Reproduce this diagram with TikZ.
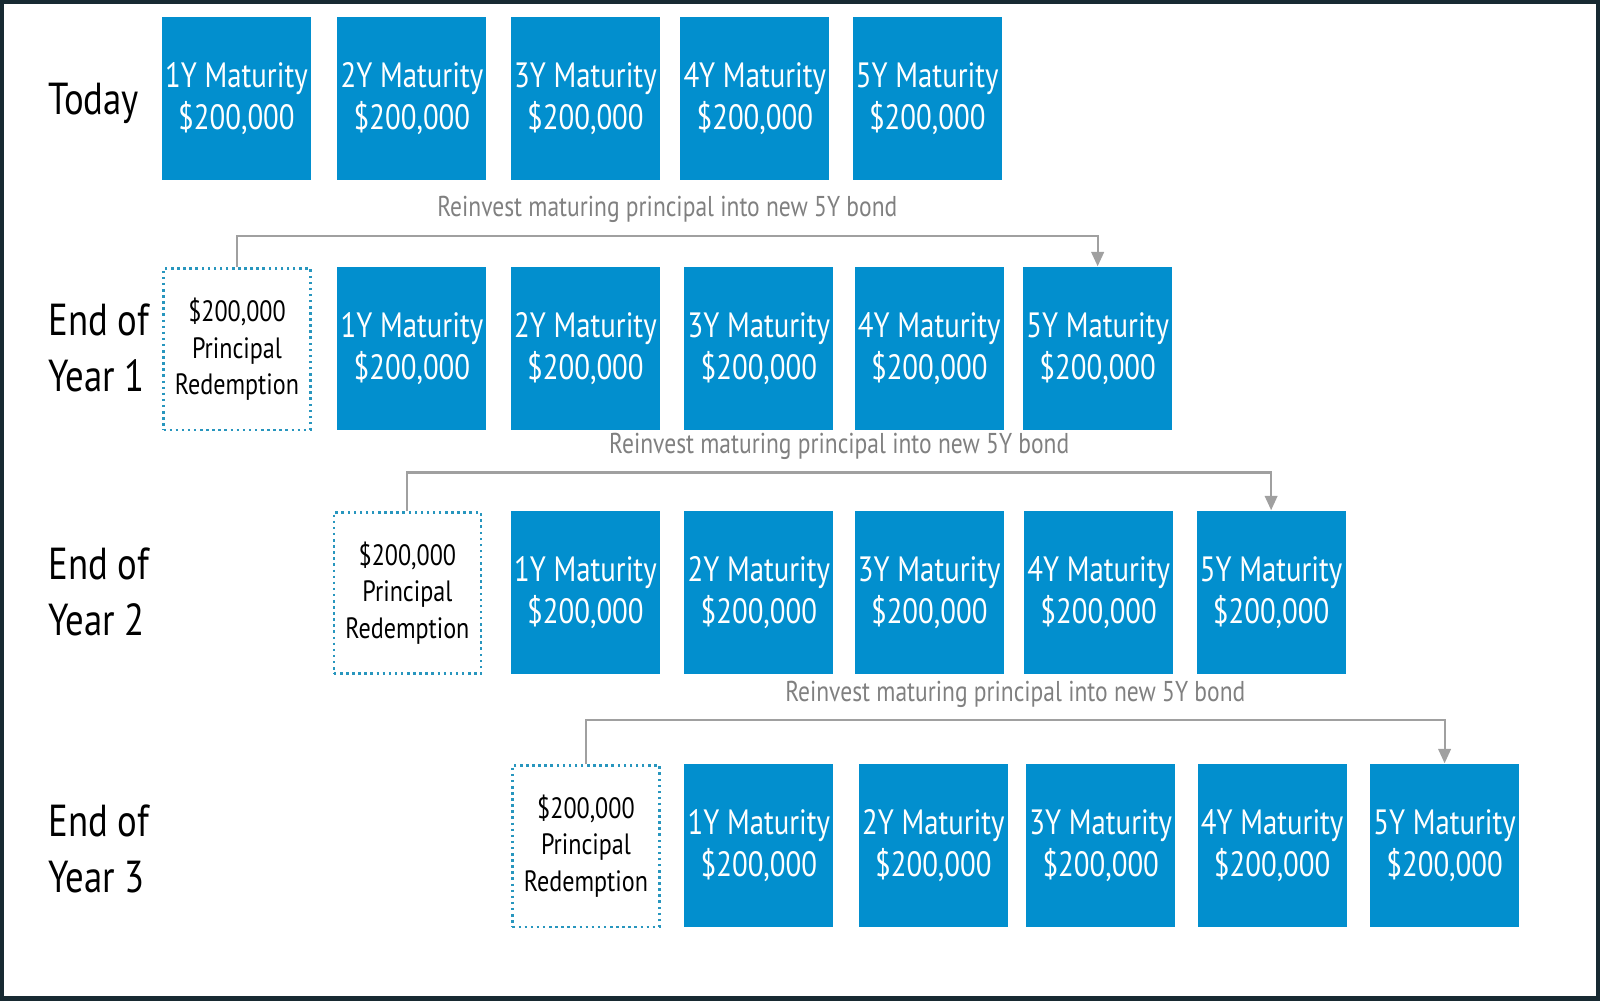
\documentclass[tikz,border=0pt]{standalone}
\usepackage{fontspec}
\setmainfont{PT Sans}[FakeStretch=0.82]
\usetikzlibrary{arrows.meta}
\definecolor{bondblue}{RGB}{2,143,206}
\definecolor{dotteal}{RGB}{40,150,190}
\definecolor{linegray}{RGB}{160,160,160}
\definecolor{framedark}{RGB}{24,42,50}
\begin{document}
\begin{tikzpicture}[x=0.1mm, y=-0.1mm]
        \tikzset{Bond/.style={shape=rectangle, fill=bondblue, text=white, minimum width=14.6mm, minimum height=16mm, align=center, font=\fontsize{9.8}{11.6}\selectfont, anchor=north west, inner sep=0pt}}
        \tikzset{Redeem/.style={shape=rectangle, draw=dotteal, densely dotted, line width=0.7pt, minimum width=14.4mm, minimum height=15.8mm, align=center, font=\fontsize{8.2}{10.2}\selectfont, anchor=north west, inner sep=0pt}}
        \tikzset{Row/.style={anchor=west, align=left, font=\fontsize{12.5}{15.6}\selectfont}}
        \tikzset{Reinvest/.style={draw=linegray, line width=0.6pt, -{Triangle[width=3.5pt,length=4pt]}}}
        \tikzset{Note/.style={text=gray, font=\fontsize{8}{10}\selectfont}}

        \useasboundingbox (0,0) rectangle (1568,980);
        \draw[framedark, line width=2pt] (0,0) rectangle (1568,980);

        % row labels
        \node[Row] (today) at (35,101) {Today};
        \node[Row] (year1) at (35,341) {End of\\Year 1};
        \node[Row] (year2) at (35,580) {End of\\Year 2};
        \node[Row] (year3) at (35,832) {End of\\Year 3};

        % today
        \foreach \x [count=\i] in {158,330,500,666,835}
            \node[Bond] (t\i) at (\x,16) {\i Y Maturity\\\$200,000};

        % end of year 1
        \node[Redeem] (r1) at (159,262) {\$200,000\\Principal\\Redemption};
        \foreach \x [count=\i] in {330,500,670,837,1002}
            \node[Bond] (a\i) at (\x,261) {\i Y Maturity\\\$200,000};

        % end of year 2
        \node[Redeem] (r2) at (326,501) {\$200,000\\Principal\\Redemption};
        \foreach \x [count=\i] in {500,670,837,1003,1172}
            \node[Bond] (b\i) at (\x,500) {\i Y Maturity\\\$200,000};

        % end of year 3
        \node[Redeem] (r3) at (501,749) {\$200,000\\Principal\\Redemption};
        \foreach \x [count=\i] in {670,841,1005,1173,1342}
            \node[Bond] (c\i) at (\x,748) {\i Y Maturity\\\$200,000};

        % arrows
        \draw[Reinvest] (r1.north) -- ++(0,-31) -| (a5.north) node[Note, pos=0.25, above=0pt] {Reinvest maturing principal into new 5Y bond};
        \draw[Reinvest] (r2.north) -- ++(0,-38) -| (b5.north) node[Note, pos=0.25, above=0pt] {Reinvest maturing principal into new 5Y bond};
        \draw[Reinvest] (r3.north) -- ++(0,-43) -| (c5.north) node[Note, pos=0.25, above=0pt] {Reinvest maturing principal into new 5Y bond};
    \end{tikzpicture}
\end{document}
